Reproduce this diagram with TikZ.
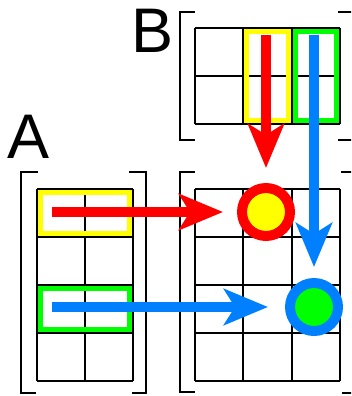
\documentclass[tikz,border=0pt]{standalone}
\usepackage{fontspec}
\setmainfont{Liberation Sans}
\usetikzlibrary{arrows.meta}
\definecolor{pred}{RGB}{255,0,0}
\definecolor{pyellow}{RGB}{255,255,0}
\definecolor{pgreen}{RGB}{0,255,0}
\definecolor{pblue}{RGB}{0,128,255}
\begin{document}
\begin{tikzpicture}[x=1pt,y=-1pt,
  gridline/.style={line width=2pt,black},
  hlbox/.style={line width=5pt},
  bracket/.style={line width=2pt,black},
  arr/.style={line width=10pt,-{Stealth[length=44pt,width=36pt,inset=11pt]}},
  dot/.style={circle,minimum size=48pt,inner sep=0pt,line width=10pt},
  lbl/.style={font=\fontsize{63}{63}\selectfont,inner sep=0pt}]
\useasboundingbox (0,0) rectangle (351,396);
\clip (0,0) rectangle (351,396);
% labels
\node[lbl] (la) at (29,137) {A};
\node[lbl] (lb) at (153,31) {B};
% brackets
\draw[bracket] (38,172) -- (21,172) -- (21,393) -- (36,393);
\draw[bracket] (129,172) -- (146,172) -- (146,393) -- (132,393);
\draw[bracket] (195,172) -- (180,172) -- (180,392) -- (195,392);
\draw[bracket] (341,172) -- (357,172) -- (357,393) -- (342,393);
\draw[bracket] (195,12) -- (180,12) -- (180,140) -- (195,140);
\draw[bracket] (338,12) -- (357,12) -- (357,140) -- (338,140);
% grid A
\foreach \x in {37,85,133} \draw[gridline] (\x,189) -- (\x,381);
\foreach \y in {189,237,285,333,381} \draw[gridline] (37,\y) -- (133,\y);
% grid B
\foreach \x in {195,243.3,291.7,340} \draw[gridline] (\x,28) -- (\x,124);
\foreach \y in {28,76,124} \draw[gridline] (195,\y) -- (340,\y);
% grid C
\foreach \x in {195,243.3,291.7,340} \draw[gridline] (\x,189) -- (\x,381);
\foreach \y in {189,237,285,333,381} \draw[gridline] (195,\y) -- (340,\y);
% highlights
\draw[hlbox,pyellow] (40.5,192.5) rectangle (129.5,233.5);
\draw[hlbox,pgreen] (40.5,288.5) rectangle (129.5,329.5);
\draw[hlbox,pyellow] (246.5,31.5) rectangle (288.5,120.5);
\draw[hlbox,pgreen] (295,31.5) rectangle (336.5,120.5);
% result dots
\node[dot,draw=pred,fill=pyellow] (cy) at (266,212) {};
\node[dot,draw=pblue,fill=pgreen] (cg) at (314,307) {};
% arrows
\coordinate (ra) at (52,212);
\coordinate (ba) at (52,307);
\coordinate (rb) at (266,35);
\coordinate (bb) at (314,35);
\draw[arr,pred,shorten >=14pt] (ra) -- (cy);
\draw[arr,pred,shorten >=15pt] (rb) -- (cy);
\draw[arr,pblue,shorten >=17pt] (ba) -- (cg);
\draw[arr,pblue,shorten >=11pt] (bb) -- (cg);
\end{tikzpicture}
\end{document}
